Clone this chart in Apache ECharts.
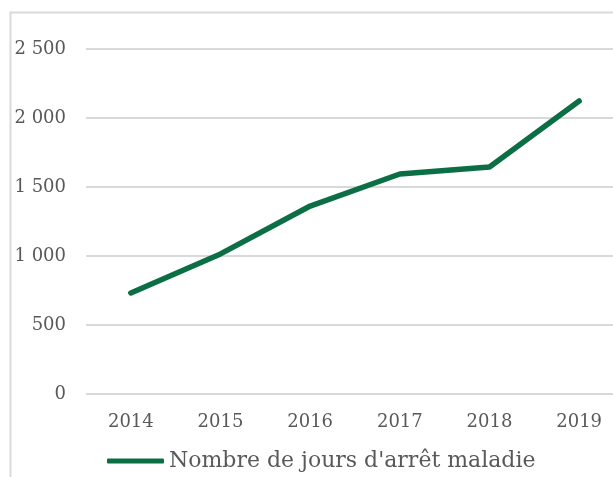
<!DOCTYPE html>
<html>
<head>
<meta charset="utf-8">
<script src="https://cdn.jsdelivr.net/npm/echarts@6/dist/echarts.min.js"></script>
<style>
  html, body { margin: 0; padding: 0; background: #fff; }
  #chart { width: 613px; height: 477px; }
</style>
</head>
<body>
<div id="chart"></div>
<script>
var years = ['2014', '2015', '2016', '2017', '2018', '2019'];
var joursArret = [732, 1015, 1362, 1594, 1645, 2123];
var seriesName = "Nombre de jours d'arrêt maladie";

var myChart = echarts.init(document.getElementById('chart'));
var option = {
    animation: false,
    textStyle: { fontFamily: 'DejaVu Serif' },
    // cadre gris du graphique
    graphic: [{
        type: 'rect',
        shape: { x: 10.5, y: 12.5, width: 700, height: 600 },
        style: { fill: 'none', stroke: '#d9d9d9', lineWidth: 2 },
        silent: true
    }],
    grid: { left: 86, width: 538, top: 49, bottom: 83, outerBoundsMode: 'none', containLabel: false },
    legend: {
        data: [seriesName],
        left: 102,
        top: 445,
        icon: 'roundRect',
        itemWidth: 57,
        itemHeight: 5,
        textStyle: { color: '#595959', fontSize: 22, fontFamily: 'DejaVu Serif' }
    },
    xAxis: {
        type: 'category',
        data: years,
        boundaryGap: true,
        axisLine: { show: false },
        axisTick: { show: false },
        axisLabel: { color: '#595959', fontSize: 18, margin: 19 }
    },
    yAxis: {
        type: 'value',
        min: 0,
        max: 2500,
        interval: 500,
        axisLine: { show: false },
        axisTick: { show: false },
        axisLabel: {
            color: '#595959',
            fontSize: 18,
            margin: 20,
            formatter: function (v) {
                return String(v).replace(/\B(?=(\d{3})+(?!\d))/g, ' ');
            }
        },
        splitLine: { lineStyle: { color: '#d9d9d9', width: 2 } }
    },
    series: [{
        name: seriesName,
        type: 'line',
        data: joursArret,
        showSymbol: false,
        symbol: 'none',
        itemStyle: { color: '#0b6e45' },
        lineStyle: { color: '#0b6e45', width: 5.5, cap: 'round', join: 'round' }
    }]
};
myChart.setOption(option);
</script>
</body>
</html>
